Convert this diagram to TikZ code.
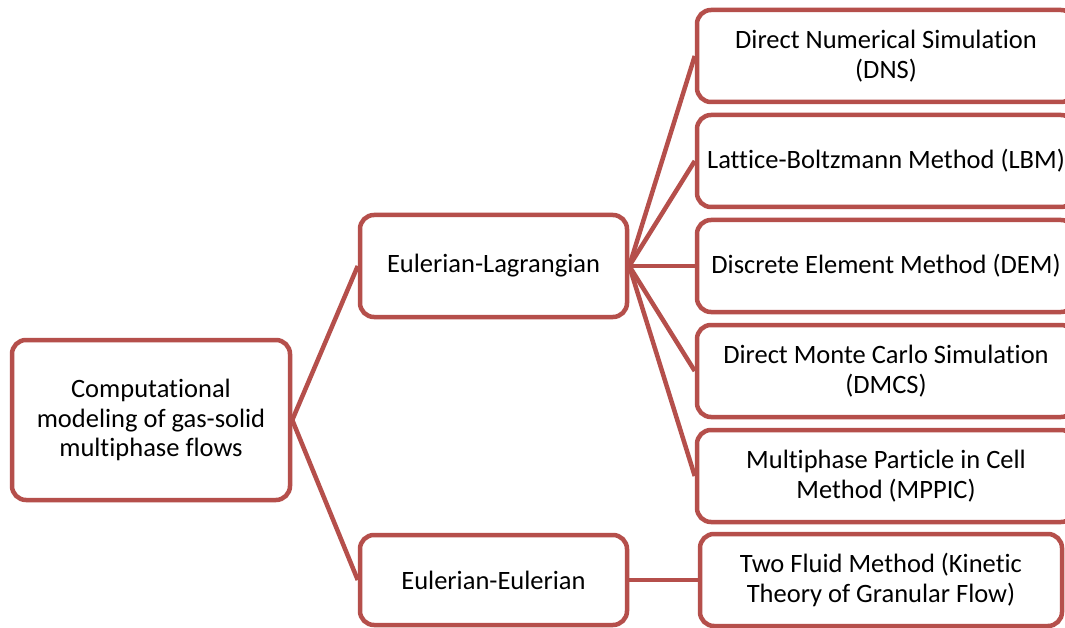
\documentclass[tikz,border=0pt]{standalone}
\usepackage{fontspec}
\setmainfont{Carlito}[Ligatures={NoCommon}]
\usepackage{xcolor}
\definecolor{boxred}{HTML}{B54F4B}

\tikzset{
  box/.style={draw=boxred, line width=4.5pt, rounded corners=14pt, fill=white,
    align=center, inner sep=0pt, font=\fontsize{26.5}{29.5}\selectfont},
  link/.style={draw=boxred, line width=4.5pt}
}

\begin{document}
\begin{tikzpicture}[x=1pt,y=-1pt]
%% frame
\clip (0,0) rectangle (1065,628);
\fill[white] (0,0) rectangle (1065,628);
%% boxes
\node[box, minimum width=278pt, minimum height=160pt] (root) at (151,420)
  {Computational\\modeling of gas-solid\\multiphase flows};
\node[box, minimum width=267pt, minimum height=102pt] (el) at (493.5,266) {Eulerian-Lagrangian};
\node[box, minimum width=267pt, minimum height=90pt] (ee) at (493.5,580) {Eulerian-Eulerian};

\node[box, minimum width=378pt, minimum height=92pt] (dns) at (886,56)
  {Direct Numerical Simulation\\(DNS)};
\node[box, minimum width=378pt, minimum height=92pt] (lbm) at (886,161)
  {Lattice-Boltzmann Method (LBM)};
\node[box, minimum width=378pt, minimum height=92pt] (dem) at (886,266)
  {Discrete Element Method (DEM)};
\node[box, minimum width=378pt, minimum height=92pt] (dmcs) at (886,371)
  {Direct Monte Carlo Simulation\\(DMCS)};
\node[box, minimum width=378pt, minimum height=92pt] (mppic) at (886,476)
  {Multiphase Particle in Cell\\Method (MPPIC)};
\node[box, minimum width=362pt, minimum height=92pt] (tfm) at (881,580)
  {Two Fluid Method (Kinetic\\Theory of Granular Flow)};
%% links
\draw[link] (root.east) -- (el.west);
\draw[link] (root.east) -- (ee.west);
\foreach \m in {dns,lbm,dem,dmcs,mppic}
  \draw[link] (el.east) -- (\m.west);
\draw[link] (ee.east) -- (tfm.west);
\end{tikzpicture}
\end{document}
